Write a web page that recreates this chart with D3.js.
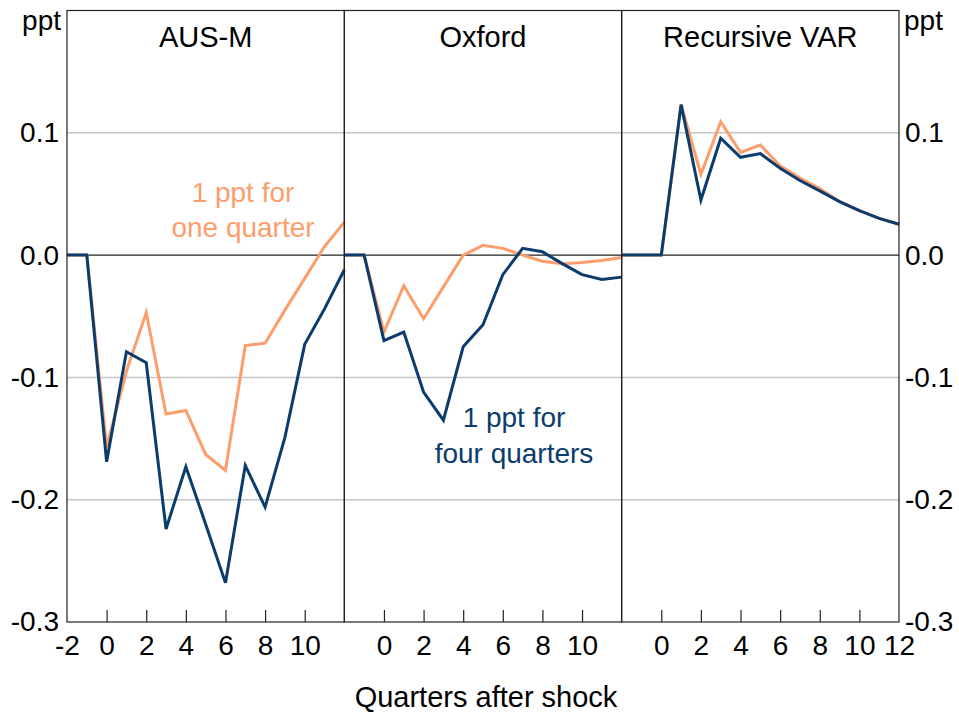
<!DOCTYPE html>
<html lang="en">
<head>
    <meta charset="UTF-8">
    <title>Response to a 1 ppt shock</title>
    <script src="https://d3js.org/d3.v7.min.js"></script>
    <style>
        body { margin: 0; background: white; }
        text { font-family: Arial, "Liberation Sans", sans-serif; }
    </style>
</head>
<body>

    <script>
        // quarters after the shock (x values shared by every panel)
        var quarters = [-2, -1, 0, 1, 2, 3, 4, 5, 6, 7, 8, 9, 10, 11, 12];

        // AUS-M responses
        var ausmOne  = [0, 0, -0.157, -0.095, -0.047, -0.130, -0.127, -0.163, -0.176, -0.074, -0.072, -0.045, -0.019, 0.007, 0.027];
        var ausmFour = [0, 0, -0.169, -0.079, -0.088, -0.224, -0.173, -0.220, -0.268, -0.172, -0.206, -0.149, -0.073, -0.044, -0.012];

        // Oxford responses
        var oxfordOne  = [0, 0, -0.063, -0.025, -0.052, -0.026, 0.000, 0.008, 0.0055, 0.000, -0.005, -0.007, -0.006, -0.0045, -0.002];
        var oxfordFour = [0, 0, -0.070, -0.063, -0.112, -0.135, -0.075, -0.057, -0.016, 0.0055, 0.0027, -0.007, -0.016, -0.020, -0.018];

        // Recursive VAR responses
        var varOne  = [0, 0, 0, 0.123, 0.066, 0.109, 0.084, 0.090, 0.073, 0.063, 0.0545, 0.0437, 0.0363, 0.030, 0.0252];
        var varFour = [0, 0, 0, 0.123, 0.045, 0.0956, 0.080, 0.083, 0.071, 0.061, 0.0525, 0.0437, 0.0363, 0.030, 0.0252];

        var panelNames = ["AUS-M", "Oxford", "Recursive VAR"];
        var yTicks = [0.1, 0.0, -0.1, -0.2, -0.3];
        var xTickLabels = [
            [-2, 0, 2, 4, 6, 8, 10],
            [0, 2, 4, 6, 8, 10],
            [0, 2, 4, 6, 8, 10, 12]
        ];

        var panels = [
            {name: panelNames[0], one: ausmOne, four: ausmFour, ticks: xTickLabels[0]},
            {name: panelNames[1], one: oxfordOne, four: oxfordFour, ticks: xTickLabels[1]},
            {name: panelNames[2], one: varOne, four: varFour, ticks: xTickLabels[2]}
        ];

        var orange = "#fc9d6c",
            blue = "#0b3c6c";

        // margins of the whole plot area
        var margin = {top: 10.5, right: 60, bottom: 91, left: 67},
            fullWidth = 959, fullHeight = 713,
            width = fullWidth - margin.left - margin.right,
            height = fullHeight - margin.top - margin.bottom,
            panelWidth = width / 3;

        var svg = d3.select("body").append("svg")
            .attr("width", fullWidth)
            .attr("height", fullHeight)
            .append("g")
            .attr("transform", "translate(" + margin.left + "," + margin.top + ")");

        var y = d3.scaleLinear()
            .domain([-0.3, 0.2])
            .range([height, 0]);

        var x = d3.scaleLinear()
            .domain([-2, 12])
            .range([0, panelWidth]);

        var line = d3.line()
            .x((d, i) => x(quarters[i]))
            .y(d => y(d));

        // plain hyphen for negatives, like the original
        var fmtY = d => d.toFixed(1);
        var fmtX = d => String(d);

        // horizontal grid lines
        svg.append("g")
            .selectAll("line")
            .data(yTicks.filter(v => v !== 0 && v !== -0.3))
            .enter()
            .append("line")
            .attr("x1", 0)
            .attr("x2", width)
            .attr("y1", d => y(d))
            .attr("y2", d => y(d))
            .attr("stroke", "#c6c6c6")
            .attr("stroke-width", 1.5);

        // zero line
        svg.append("line")
            .attr("x1", 0).attr("x2", width)
            .attr("y1", y(0)).attr("y2", y(0))
            .attr("stroke", "#222")
            .attr("stroke-width", 1.2);

        panels.forEach(function(p, k) {
            var g = svg.append("g")
                .attr("transform", "translate(" + (k * panelWidth) + ",0)");

            // bottom axis: inward tick marks and labels
            var axis = g.append("g")
                .attr("transform", "translate(0," + height + ")")
                .call(d3.axisBottom(x).tickValues(p.ticks).tickSize(-12).tickPadding(33).tickFormat(fmtX));
            axis.select(".domain").remove();
            axis.selectAll(".tick line")
                .attr("stroke", "#222")
                .attr("stroke-width", 1.2)
                .filter(d => d === -2 || d === 12).remove();
            axis.selectAll(".tick text")
                .attr("fill", "black")
                .style("font-size", "28px")
                .attr("dy", "0");

            // lines: one quarter first so four quarters sits on top
            g.append("path")
                .datum(p.one)
                .attr("d", line)
                .attr("fill", "none")
                .attr("stroke", orange)
                .attr("stroke-width", 3)
                .attr("stroke-linejoin", "miter");

            g.append("path")
                .datum(p.four)
                .attr("d", line)
                .attr("fill", "none")
                .attr("stroke", blue)
                .attr("stroke-width", 3)
                .attr("stroke-linejoin", "miter");

            // panel title
            g.append("text")
                .attr("x", panelWidth / 2)
                .attr("y", 36)
                .attr("text-anchor", "middle")
                .style("font-size", "29px")
                .text(p.name);

            // panel frame
            g.append("rect")
                .attr("width", panelWidth)
                .attr("height", height)
                .attr("fill", "none")
                .attr("stroke", "#222")
                .attr("stroke-width", 1.2);
        });

        // y axis labels on both sides
        var yLeft = svg.append("g")
            .call(d3.axisLeft(y).tickValues(yTicks).tickSize(0).tickPadding(8).tickFormat(fmtY));
        yLeft.select(".domain").remove();
        yLeft.selectAll("text").style("font-size", "28px").attr("fill", "black");

        var yRight = svg.append("g")
            .attr("transform", "translate(" + width + ",0)")
            .call(d3.axisRight(y).tickValues(yTicks).tickSize(0).tickPadding(6).tickFormat(fmtY));
        yRight.select(".domain").remove();
        yRight.selectAll("text").style("font-size", "28px").attr("fill", "black");

        // units
        svg.append("text").attr("x", -6).attr("y", 19).attr("text-anchor", "end")
            .style("font-size", "28px").text("ppt");
        svg.append("text").attr("x", width + 5).attr("y", 19)
            .style("font-size", "28px").text("ppt");

        // annotations
        var noteOne = svg.append("text")
            .attr("text-anchor", "middle")
            .attr("fill", orange)
            .style("font-size", "28px");
        noteOne.append("tspan").attr("x", 176).attr("y", 191).text("1 ppt for");
        noteOne.append("tspan").attr("x", 176).attr("y", 226).text("one quarter");

        var noteFour = svg.append("text")
            .attr("text-anchor", "middle")
            .attr("fill", blue)
            .style("font-size", "28px");
        noteFour.append("tspan").attr("x", 447).attr("y", 416).text("1 ppt for");
        noteFour.append("tspan").attr("x", 447).attr("y", 452).text("four quarters");

        // x axis title
        svg.append("text")
            .attr("x", width / 2 + 3)
            .attr("y", height + 85)
            .attr("text-anchor", "middle")
            .style("font-size", "29px")
            .text("Quarters after shock");
    </script>

</body>
</html>
